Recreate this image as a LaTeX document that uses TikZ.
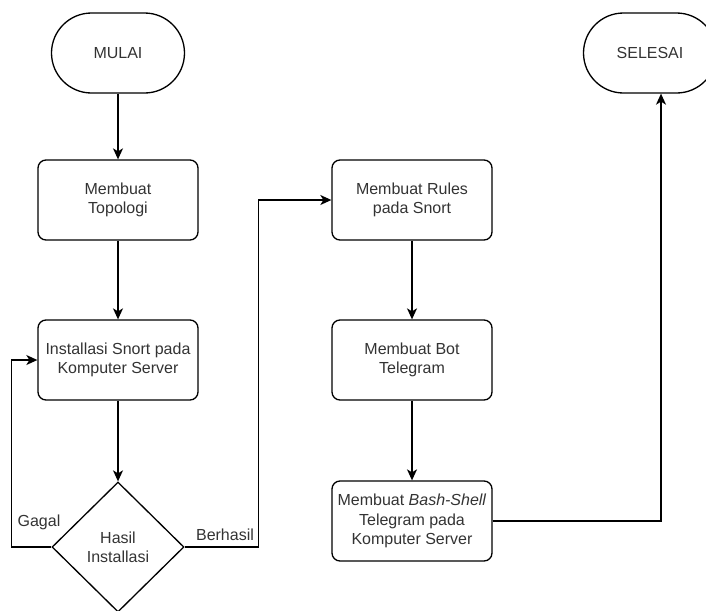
\documentclass[tikz,border=0pt]{standalone}
\usepackage{fontspec}
\setmainfont{Liberation Sans}
\usetikzlibrary{shapes.geometric,arrows.meta}

\definecolor{txtgray}{HTML}{333333}

\tikzset{
	box/.style={draw, rounded corners=0.16cm, minimum width=3.2cm, minimum height=1.6cm, align=center, inner sep=1pt},
	term/.style={draw, rounded corners=0.8cm, minimum width=2.66cm, minimum height=1.6cm, align=center},
	decide/.style={draw, diamond, minimum width=2.64cm, minimum height=2.6cm, inner sep=0pt, align=center},
	flow/.style={-{Stealth[length=2.2mm, width=2mm, inset=0.6mm]}},
	lbl/.style={inner sep=1pt}
}

\begin{document}
\begin{tikzpicture}[line width=0.75pt, font=\fontsize{9.1}{11}\selectfont, text=txtgray]

\useasboundingbox (0,0) rectangle (14.12,-12.2);


\node[term] (mulai) at (2.36,-1.06) {MULAI};
\node[box] (topo) at (2.36,-4.0) {Membuat\\Topologi};
\node[box] (install) at (2.36,-7.2) {Installasi Snort pada\\Komputer Server};
\node[decide] (hasil) at (2.36,-10.94) {Hasil\\Installasi};


\node[box] (rules) at (8.24,-4.0) {Membuat Rules\\pada Snort};
\node[box] (bot) at (8.24,-7.2) {Membuat Bot\\Telegram};
\node[box] (bash) at (8.24,-10.42) {Membuat \textit{Bash-Shell}\\Telegram pada\\Komputer Server};


\node[term] (selesai) at (13.0,-1.06) {SELESAI};


\draw[flow] (mulai) -- (topo);
\draw[flow] (topo) -- (install);
\draw[flow] (install) -- (hasil);

\draw[flow] (hasil.west) -- ++(-0.8,0) |- (install.west);
\draw[flow] (hasil.east) -- ++(1.48,0) |- (rules.west);

\draw[flow] (rules) -- (bot);
\draw[flow] (bot) -- (bash);
\draw[flow] (bash.east) -| ([xshift=0.22cm]selesai.south);


\node[lbl] (gagal) at (0.78,-10.44) {Gagal};
\node[lbl] (berhasil) at (4.5,-10.7) {Berhasil};

\end{tikzpicture}
\end{document}
